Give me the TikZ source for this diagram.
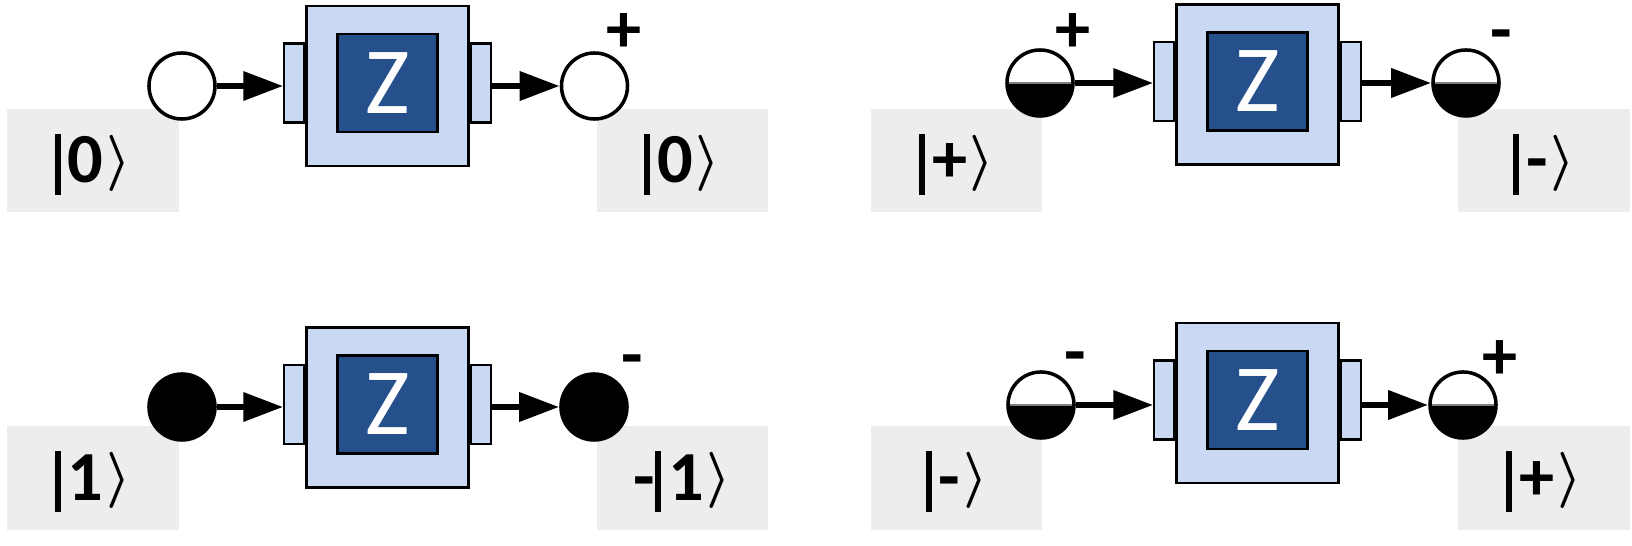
\documentclass[tikz,border=0pt]{standalone}
\usepackage{fontspec}
\usepackage{graphicx}
\setmainfont{Carlito}
\usetikzlibrary{arrows.meta,positioning}
\definecolor{ketgray}{HTML}{EDEDED}
\definecolor{gatelight}{HTML}{C9D9F3}
\definecolor{gatedark}{HTML}{26508C}
\newcommand{\ketlab}[1]{\rule[-3.4pt]{1.7pt}{17.3pt}\kern2pt#1\kern0.8pt%
  \raisebox{1.5pt}{\resizebox*{7pt}{16pt}{\boldmath$\rangle$}}}

\begin{document}
\begin{tikzpicture}[
  x=0.01cm, y=-0.01cm,
  gate/.style={draw, fill=gatelight, line width=0.6pt, inner sep=0pt,
               minimum width=16.2mm, minimum height=16mm},
  zbox/.style={draw, fill=gatedark, line width=0.6pt, inner sep=0pt,
               minimum width=10mm, minimum height=9.8mm, text=white,
               font=\fontsize{27}{30}\selectfont},
  tab/.style={draw, fill=gatelight, line width=0.6pt, inner sep=0pt,
              minimum width=2mm, minimum height=7.9mm},
  qb/.style={circle, draw, line width=1pt, minimum size=6.6mm, inner sep=0pt},
  zero/.style={qb, fill=white},
  one/.style={qb, fill=black},
  half/.style={qb, fill=white, path picture={
      \fill[black] (path picture bounding box.west) rectangle
                   (path picture bounding box.south east);
      \draw[gray, line width=0.8pt] (path picture bounding box.west) --
                   (path picture bounding box.east);}},
  ket/.style={fill=ketgray, inner sep=0pt, minimum width=17.1mm,
              minimum height=10.3mm, text height=14pt, text depth=1.4pt,
              font=\bfseries\fontsize{20}{24}\selectfont},
  sgn/.style={font=\bfseries\fontsize{20}{22}\selectfont, inner sep=0pt},
  arr/.style={-{Triangle[length=4mm,width=2.8mm]}, line width=1.9pt}
]
\useasboundingbox (0,0) rectangle (1632,546);

% |0> -> |0>
\node[ket] (kA0) at (93,160.5) {\ketlab{0}};
\node[ket] (kA1) at (682.5,160.5) {\ketlab{0}};
\node[gate] (gA) at (387.5,86) {};
\node[zbox, yshift=0.3mm] (zA) at (gA) {Z};
\node[tab, left=0pt of gA, yshift=0.3mm] (lA) {};
\node[tab, right=0pt of gA, yshift=0.3mm] (rA) {};
\node[zero] (iA) at (182,86) {};
\node[zero] (oA) at (594.5,86) {};
\node[sgn] (sA) at ([xshift=2.95mm,yshift=5.3mm]oA.center) {+};
\draw[arr] (iA) -- (iA -| lA.west);
\draw[arr] (rA.east |- oA) -- (oA);

% |+> -> |->
\node[ket] (kB0) at (956.75,160.5) {\ketlab{+}};
\node[ket] (kB1) at (1544,160.5) {\ketlab{-}};
\node[gate] (gB) at (1257.5,84.5) {};
\node[zbox, yshift=0.3mm] (zB) at (gB) {Z};
\node[tab, left=0pt of gB, yshift=0.3mm] (lB) {};
\node[tab, right=0pt of gB, yshift=0.3mm] (rB) {};
\node[half] (iB) at (1040,83) {};
\node[half] (oB) at (1466,83) {};
\node[sgn] (sB0) at ([xshift=3.3mm,yshift=5mm]iB.center) {+};
\node[sgn] (sB1) at ([xshift=3.5mm,yshift=4.1mm]oB.center) {-};
\draw[arr] (iB) -- (iB -| lB.west);
\draw[arr] (rB.east |- oB) -- (oB);

% |1> -> -|1>
\node[ket] (kC0) at (93,478) {\ketlab{1}};
\node[ket] (kC1) at (682.5,478) {-\ketlab{1}};
\node[gate] (gC) at (387.5,407.5) {};
\node[zbox, yshift=0.3mm] (zC) at (gC) {Z};
\node[tab, left=0pt of gC, yshift=0.3mm] (lC) {};
\node[tab, right=0pt of gC, yshift=0.3mm] (rC) {};
\node[one] (iC) at (182,407) {};
\node[one] (oC) at (594,407) {};
\node[sgn] (sC) at ([xshift=3.8mm,yshift=4mm]oC.center) {-};
\draw[arr] (iC) -- (iC -| lC.west);
\draw[arr] (rC.east |- oC) -- (oC);

% |-> -> |+>
\node[ket] (kD0) at (956.75,478) {\ketlab{-}};
\node[ket] (kD1) at (1544,478) {\ketlab{+}};
\node[gate] (gD) at (1257.5,403) {};
\node[zbox, yshift=0.3mm] (zD) at (gD) {Z};
\node[tab, left=0pt of gD, yshift=0.3mm] (lD) {};
\node[tab, right=0pt of gD, yshift=0.3mm] (rD) {};
\node[half] (iD) at (1041,405) {};
\node[half] (oD) at (1463,405) {};
\node[sgn] (sD0) at ([xshift=3.4mm,yshift=4.1mm]iD.center) {-};
\node[sgn] (sD1) at ([xshift=3.7mm,yshift=4.5mm]oD.center) {+};
\draw[arr] (iD) -- (iD -| lD.west);
\draw[arr] (rD.east |- oD) -- (oD);
\end{tikzpicture}
\end{document}
